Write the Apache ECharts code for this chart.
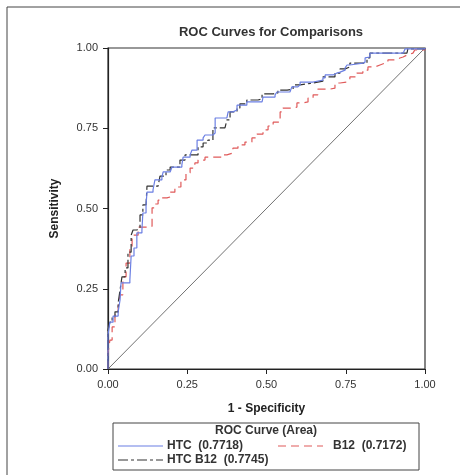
<!DOCTYPE html>
<html><head><meta charset="utf-8">
<script src="https://cdn.jsdelivr.net/npm/echarts@6/dist/echarts.min.js"></script>
<style>html,body{margin:0;padding:0;background:#fff}#c{width:460px;height:475px}</style>
</head><body><div id="c"></div>
<script>
const titleText = "ROC Curves for Comparisons";
const xAxisName = "1 - Specificity";
const yAxisName = "Sensitivity";
const legendTitle = "ROC Curve (Area)";
const tickValues = [0, 0.25, 0.5, 0.75, 1];
const seriesNames = ["HTC", "B12", "HTC B12"];
const seriesAUC = ["0.7718", "0.7172", "0.7745"];

const htc = [[0,0],[0,0.106],[0.006,0.146],[0.016,0.165],[0.032,0.178],[0.038,0.215],[0.041,0.268],[0.069,0.277],[0.073,0.352],[0.082,0.377],[0.091,0.424],[0.107,0.433],[0.110,0.486],[0.120,0.511],[0.123,0.551],[0.142,0.558],[0.148,0.589],[0.170,0.598],[0.174,0.614],[0.196,0.620],[0.202,0.629],[0.233,0.636],[0.237,0.660],[0.259,0.667],[0.265,0.682],[0.281,0.713],[0.300,0.720],[0.306,0.729],[0.331,0.735],[0.338,0.782],[0.375,0.785],[0.379,0.801],[0.394,0.807],[0.407,0.822],[0.438,0.832],[0.486,0.838],[0.489,0.847],[0.527,0.854],[0.533,0.863],[0.574,0.869],[0.580,0.879],[0.599,0.885],[0.606,0.894],[0.647,0.900],[0.678,0.907],[0.685,0.916],[0.710,0.922],[0.722,0.925],[0.732,0.931],[0.748,0.938],[0.754,0.947],[0.763,0.953],[0.804,0.956],[0.811,0.969],[0.817,0.972],[0.826,0.984],[0.931,0.988],[0.937,0.997],[1,1]];

const b12 = [[0,0],[0,0.050],[0.006,0.090],[0.013,0.131],[0.022,0.168],[0.032,0.193],[0.038,0.231],[0.047,0.287],[0.057,0.330],[0.069,0.380],[0.076,0.417],[0.095,0.442],[0.132,0.445],[0.139,0.502],[0.148,0.514],[0.158,0.526],[0.170,0.533],[0.186,0.536],[0.196,0.551],[0.211,0.567],[0.230,0.589],[0.246,0.611],[0.259,0.626],[0.274,0.642],[0.284,0.651],[0.306,0.660],[0.363,0.667],[0.375,0.673],[0.394,0.688],[0.410,0.698],[0.432,0.707],[0.454,0.720],[0.470,0.732],[0.489,0.745],[0.505,0.757],[0.521,0.769],[0.543,0.801],[0.552,0.813],[0.580,0.816],[0.596,0.829],[0.615,0.832],[0.631,0.844],[0.647,0.854],[0.662,0.872],[0.700,0.875],[0.716,0.891],[0.732,0.894],[0.754,0.900],[0.763,0.910],[0.785,0.922],[0.804,0.931],[0.820,0.941],[0.842,0.947],[0.858,0.953],[0.874,0.956],[0.883,0.963],[0.912,0.969],[0.921,0.972],[0.931,0.978],[0.943,0.984],[0.962,0.988],[0.968,0.994],[1,1]];

const htcB12 = [[0,0],[0,0.121],[0.006,0.146],[0.013,0.162],[0.022,0.178],[0.032,0.206],[0.038,0.246],[0.044,0.287],[0.054,0.315],[0.063,0.364],[0.073,0.417],[0.079,0.433],[0.091,0.439],[0.101,0.480],[0.110,0.511],[0.120,0.517],[0.123,0.570],[0.158,0.573],[0.164,0.601],[0.183,0.620],[0.196,0.629],[0.227,0.651],[0.243,0.667],[0.284,0.692],[0.300,0.704],[0.315,0.713],[0.331,0.751],[0.369,0.754],[0.375,0.776],[0.385,0.801],[0.407,0.813],[0.416,0.826],[0.438,0.838],[0.473,0.841],[0.486,0.857],[0.521,0.860],[0.536,0.869],[0.565,0.872],[0.584,0.885],[0.606,0.891],[0.647,0.897],[0.678,0.910],[0.716,0.922],[0.732,0.935],[0.748,0.941],[0.763,0.953],[0.817,0.969],[0.826,0.984],[0.943,0.988],[0.946,0.997],[1,1]];

const refLine = [[0,0],[1,1]];

const colors = ["#6b7fe3", "#e05a5a", "#333333"];
const dashes = ["solid", [8,5], [10,3,3,3]];
const FONT = "Liberation Sans, Arial, sans-serif";

const chart = echarts.init(document.getElementById('c'));
const axisCommon = {
  type: 'value', min: 0, max: 1, interval: 0.25,
  axisLine: {show: true, lineStyle: {color: '#222', width: 1.2}},
  axisTick: {show: true, inside: false, length: 5, lineStyle: {color: '#222'}},
  splitLine: {show: false},
  axisLabel: {color: '#333', fontSize: 11, fontFamily: FONT, margin: 10, formatter: v => v.toFixed(2)},
  nameTextStyle: {color: '#222', fontSize: 12, fontWeight: 'bold', fontFamily: FONT},
  nameLocation: 'middle'
};
const legendItems = [
  {x: 118, y: 446, idx: 0},
  {x: 278, y: 446, idx: 1},
  {x: 118, y: 460, idx: 2}
];
const graphics = [
  {type: 'rect', shape: {x: 7, y: 7, width: 470, height: 490}, style: {fill: 'none', stroke: '#444', lineWidth: 1}, silent: true},
  {type: 'rect', shape: {x: 113, y: 423, width: 306, height: 47}, style: {fill: 'none', stroke: '#444', lineWidth: 1}},
  {type: 'text', x: 266, y: 431, style: {text: legendTitle, fill: '#333', font: 'bold 12px ' + FONT, textAlign: 'center', textVerticalAlign: 'middle'}}
];
legendItems.forEach(it => {
  graphics.push({type: 'line', shape: {x1: it.x, y1: it.y, x2: it.x + 45, y2: it.y},
    style: {stroke: colors[it.idx], lineWidth: 1.2, lineDash: dashes[it.idx] === 'solid' ? null : dashes[it.idx]}});
  graphics.push({type: 'text', x: it.x + (it.idx === 1 ? 55 : 49), y: it.y,
    style: {text: seriesNames[it.idx] + '  (' + seriesAUC[it.idx] + ')', fill: '#333', font: 'bold 12px ' + FONT, textVerticalAlign: 'middle'}});
});

chart.setOption({
  animation: false,
  backgroundColor: '#fff',
  title: {text: titleText, left: 266, top: 21, textAlign: 'center',
    textStyle: {color: '#333', fontSize: 13, fontWeight: 'bold', fontFamily: FONT}},
  grid: {left: 108, right: 35, top: 48, bottom: 106, show: true, borderColor: '#333', borderWidth: 1.2},
  xAxis: Object.assign({}, axisCommon, {name: xAxisName, nameGap: 34}),
  yAxis: Object.assign({}, axisCommon, {name: yAxisName, nameGap: 47}),
  graphic: graphics,
  series: [
    {type: 'line', data: refLine, symbol: 'none', lineStyle: {color: '#333', width: 0.7}, silent: true},
    {name: seriesNames[1], type: 'line', step: 'end', data: b12, symbol: 'none', lineStyle: {color: colors[1], width: 1.2, type: dashes[1]}},
    {name: seriesNames[2], type: 'line', step: 'end', data: htcB12, symbol: 'none', lineStyle: {color: colors[2], width: 1.2, type: dashes[2]}},
    {name: seriesNames[0], type: 'line', step: 'end', data: htc, symbol: 'none', lineStyle: {color: colors[0], width: 1.2, type: 'solid'}}
  ]
});
</script></body></html>
